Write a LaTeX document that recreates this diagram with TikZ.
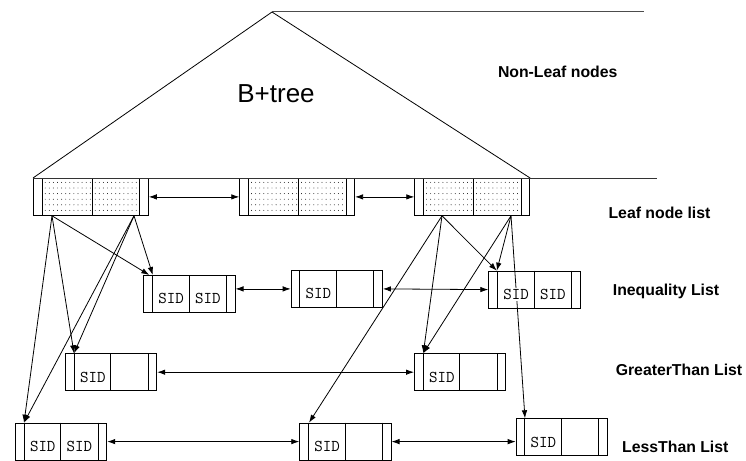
\documentclass[tikz,border=0pt]{standalone}
\usepackage{fontspec}
\setmainfont{Liberation Sans}
\usetikzlibrary{arrows.meta,calc}

\tikzset{
  box/.style={draw, line width=0.8pt, inner sep=0pt, anchor=north west},
  divline/.style={line width=0.9pt},
  link/.style={line width=0.8pt, -{Latex[length=8pt,width=5.5pt]}},
  dlink/.style={line width=0.8pt, {Latex[length=8pt,width=5.5pt]}-{Latex[length=8pt,width=5.5pt]}},
  sidtxt/.style={font=\ttfamily\fontsize{16.5}{16.5}\selectfont, fill=white, inner sep=1pt},
  lbl/.style={font=\bfseries\fontsize{15.8}{17}\selectfont},
  treeline/.style={line width=0.8pt},
}

% list box: name, left x, top y
\newcommand{\listbox}[3]{%
  \node[box, minimum width=91.4pt, minimum height=37pt] (#1) at (#2,#3) {};
  \draw[divline] ($(#1.north west)+(9,0)$) -- ($(#1.south west)+(9,0)$);
  \draw[divline] ($(#1.north west)+(45.7,0)$) -- ($(#1.south west)+(45.7,0)$);
  \draw[divline] ($(#1.north east)+(-9,0)$) -- ($(#1.south east)+(-9,0)$);
}
% dotted cell: left x, top y, number of columns
\newcommand{\dotcell}[3]{%
  \foreach \i in {1,...,#3} {\foreach \j in {0,...,5} {
    \fill[black] (#1-1.4+\i*4.1, #2+4.4+\j*5.6) circle (0.45);
  }}%
}
% leaf box: name, left x, top y
\newcommand{\leafbox}[3]{%
  \node[box, minimum width=115pt, minimum height=37pt] (#1) at (#2,#3) {};
  \dotcell{#2+9.5}{#3}{12}
  \dotcell{#2+59.5}{#3}{11}
  \draw[divline] ($(#1.north west)+(9.5,0)$) -- ($(#1.south west)+(9.5,0)$);
  \draw[divline] ($(#1.north west)+(59.5,0)$) -- ($(#1.south west)+(59.5,0)$);
  \draw[divline] ($(#1.north east)+(-9,0)$) -- ($(#1.south east)+(-9,0)$);
}

\begin{document}
\begin{tikzpicture}[x=1pt,y=-1pt]
\useasboundingbox (0,0) rectangle (746,460);

% leaf node list
\leafbox{leafA}{33}{178}
\leafbox{leafB}{239.3}{178}
\leafbox{leafC}{414.3}{178}

% B+tree triangle
\coordinate (apex) at (272,12);
\coordinate (topend) at (644,12);
\coordinate (baseend) at (657,178);
\draw[treeline] (leafA.north west) -- (apex) -- (leafC.north east);
\draw[line width=1pt, black!70] (apex) -- (topend);
\draw[line width=1pt, black!80] (leafA.north west) -- (baseend);

% lists
\listbox{I1}{143.3}{275}
\listbox{I2}{290.7}{270}
\listbox{I3}{488.3}{270.7}
\listbox{G1}{65}{353.3}
\listbox{G2}{414}{353.3}
\listbox{L1}{15}{422.7}
\listbox{L2}{299.3}{422.7}
\listbox{L3}{515.7}{418.3}

% sources on leaf nodes
\coordinate (sA) at ($(leafA.south west)+(19,0)$);
\coordinate (sB) at ($(leafA.south west)+(101,0)$);
\coordinate (sC) at ($(leafC.south west)+(27.7,0)$);
\coordinate (sD) at ($(leafC.south west)+(96.7,0)$);

% horizontal links
\draw[dlink] (leafA.east) -- (leafB.west);
\draw[dlink] (leafB.east) -- (leafC.west);
\draw[dlink] (I1.east |- I2.west) -- (I2.west);
\draw[dlink] (I2.east) -- (I3.west);
\draw[dlink] (G1.east) -- (G2.west);
\draw[dlink] (L1.east) -- (L2.west);
\draw[dlink] (L2.east) -- (L3.west |- L2.east);

% pointers from leaf nodes
\draw[link] (sA) -- ($(I1.north west)+(6,0)$);
\draw[link] (sB) -- ($(I1.north west)+(9.5,0)$);
\draw[link] (sA) -- ($(G1.north west)+(9,0)$);
\draw[link] (sB) -- ($(G1.north west)+(9,0)$);
\draw[link] (sA) -- ($(L1.north west)+(9,0)$);
\draw[link] (sB) -- ($(L1.north west)+(9,0)$);
\draw[link] (sC) -- ($(I3.north west)+(8.5,0)$);
\draw[link] (sD) -- ($(I3.north west)+(8.5,0)$);
\draw[link] (sC) -- ($(G2.north west)+(9.3,0)$);
\draw[link] (sD) -- ($(G2.north west)+(9.3,0)$);
\draw[link] (sC) -- ($(L2.north west)+(9.7,0)$);
\draw[link] (sD) -- ($(L3.north west)+(9.3,0)$);

% SID texts
\node[sidtxt] (I1a) at ($(I1.center)+(-18.35,5)$) {SID};
\node[sidtxt] (I1b) at ($(I1.center)+(18.35,5)$) {SID};
\node[sidtxt] (I2a) at ($(I2.center)+(-18.35,5)$) {SID};
\node[sidtxt] (I3a) at ($(I3.center)+(-18.35,5)$) {SID};
\node[sidtxt] (I3b) at ($(I3.center)+(18.35,5)$) {SID};
\node[sidtxt] (G1a) at ($(G1.center)+(-18.35,5)$) {SID};
\node[sidtxt] (G2a) at ($(G2.center)+(-18.35,5)$) {SID};
\node[sidtxt] (L1a) at ($(L1.center)+(-18.35,5)$) {SID};
\node[sidtxt] (L1b) at ($(L1.center)+(18.35,5)$) {SID};
\node[sidtxt] (L2a) at ($(L2.center)+(-18.35,5)$) {SID};
\node[sidtxt] (L3a) at ($(L3.center)+(-18.35,5)$) {SID};

% labels
\node[font=\fontsize{26}{28}\selectfont] (btree) at (276,94) {B+tree};
\node[lbl] (nonleaf) at (557.7,72) {Non-Leaf nodes};
\node[lbl] (leaflbl) at (659.5,213.3) {Leaf node list};
\node[lbl] (ineqlbl) at (666,291.7) {Inequality List};
\node[lbl] (gtlbl) at (679,370) {GreaterThan List};
\node[lbl] (ltlbl) at (675.3,447.3) {LessThan List};
\end{tikzpicture}
\end{document}
